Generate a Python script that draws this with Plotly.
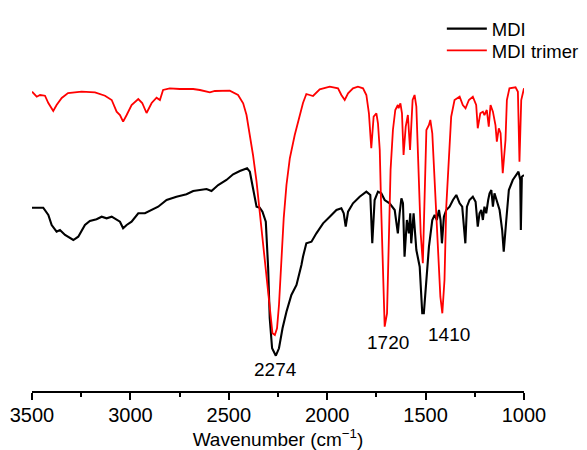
import plotly.graph_objects as go

# MDI (black) spectrum: wavenumber (cm-1) and transmittance (arbitrary units)
mdi_wn = [3500, 3443, 3417, 3400, 3375, 3358, 3332, 3290, 3265, 3231, 3206, 3172, 3146, 3121, 3095,
          3070, 3053, 3037, 3019, 2994, 2960, 2926, 2892, 2859, 2816, 2766, 2715, 2681, 2613, 2588,
          2554, 2512, 2478, 2444, 2407, 2393, 2377, 2359, 2343, 2329, 2312, 2300, 2292, 2280, 2261,
          2245, 2227, 2207, 2182, 2156, 2131, 2123, 2106, 2080, 2055, 2021, 1987, 1953, 1928, 1916,
          1906, 1894, 1869, 1835, 1801, 1781, 1771, 1759, 1742, 1725, 1708, 1683, 1657, 1641, 1632,
          1623, 1615, 1607, 1595, 1585, 1578, 1573, 1561, 1547, 1530, 1517, 1509, 1496, 1483, 1466,
          1454, 1443, 1432, 1424, 1417, 1407, 1395, 1378, 1361, 1344, 1327, 1314, 1306, 1298, 1290,
          1277, 1260, 1246, 1235, 1226, 1217, 1209, 1201, 1192, 1182, 1175, 1166, 1158, 1150, 1138,
          1124, 1111, 1103, 1090, 1077, 1057, 1037, 1028, 1019, 1016, 1011, 1000]
mdi_t = [183.3, 183.3, 176, 166, 159.3, 161, 156, 151, 154.3, 166, 170, 171.7, 174.3, 172.7, 174.3,
         171, 169.3, 162.7, 166, 169.3, 177.7, 177.7, 181, 184.3, 191, 194.3, 196.7, 200, 202, 200,
         206, 211, 216.7, 220, 222.7, 219.3, 202.7, 184.3, 183.3, 179.3, 169.3, 122.7, 72.7, 42.7, 35.3,
         42.7, 62.7, 79.3, 96, 106, 126, 134.3, 147.7, 149.3, 157.7, 167.7, 174.3, 181, 182.7, 177.7,
         164.3, 179.3, 187.7, 194.3, 199.3, 196, 147.7, 191, 199.3, 197.7, 191, 187.7, 181, 157.7, 177.7,
         192.7, 187.7, 134.3, 171, 157.7, 177.7, 147.7, 177.7, 141, 124.3, 77.7, 77.7, 111, 144.3, 171,
         176, 171, 181, 171, 147.7, 174.3, 181, 184.3, 191, 196, 187.7, 184.3, 167.7, 147.7, 184.3,
         191, 194.3, 189.3, 164.3, 177.7, 181, 171, 184.3, 177.7, 191, 197.7, 201, 184.3, 197.7, 191,
         181, 161, 139.3, 171, 201, 211, 216, 219.3, 211, 161, 214.3, 216]

# MDI trimer (red) spectrum
trimer_wn = [3500, 3476, 3459, 3434, 3417, 3392, 3375, 3349, 3317, 3248, 3180, 3129, 3095, 3070, 3053,
             3037, 3019, 2994, 2960, 2940, 2918, 2892, 2867, 2850, 2834, 2800, 2749, 2681, 2647, 2596,
             2571, 2495, 2453, 2427, 2410, 2393, 2377, 2359, 2343, 2326, 2309, 2292, 2278, 2266, 2255,
             2245, 2232, 2221, 2207, 2190, 2165, 2140, 2123, 2106, 2072, 2038, 1987, 1945, 1928, 1911,
             1894, 1869, 1844, 1818, 1801, 1788, 1776, 1764, 1750, 1742, 1733, 1725, 1717, 1708, 1696,
             1686, 1678, 1666, 1654, 1641, 1637, 1628, 1620, 1612, 1601, 1590, 1579, 1566, 1556, 1547,
             1539, 1534, 1525, 1514, 1505, 1496, 1483, 1476, 1466, 1454, 1438, 1425, 1415, 1404, 1395,
             1382, 1370, 1353, 1327, 1311, 1297, 1280, 1260, 1243, 1235, 1222, 1209, 1201, 1189, 1179,
             1170, 1158, 1145, 1138, 1128, 1119, 1108, 1094, 1087, 1074, 1043, 1031, 1023, 1014, 1000]
trimer_t = [299.3, 294.3, 296, 295.3, 288, 280, 286, 293, 298, 299.3, 298.7, 295.3, 291, 279.3, 276,
            269.3, 276, 286, 292, 288, 278, 288, 293.3, 291, 301, 302.7, 302, 302, 301, 298.7,
            300, 300.3, 296, 287.7, 276, 256, 236, 209.3, 179.3, 146, 112.7, 79.3, 57.7, 56, 62.7,
            86, 129.3, 172.7, 206, 232.7, 256, 276, 288, 297, 295, 301.7, 304.3, 302.7, 296, 291,
            297.7, 302.7, 304.3, 302.7, 296, 277.7, 242.7, 274.3, 277.7, 267.7, 241, 177.7, 111, 64.3, 77.7,
            161, 221, 261, 281, 286, 282.7, 287.7, 277.7, 236, 264.3, 276, 241, 291, 296, 284.3,
            244.3, 211, 157.7, 127.7, 204.3, 261, 266, 271, 257.7, 211, 151, 94.3, 77.7, 111, 184.3,
            237.7, 274.3, 291, 294.3, 286, 282.7, 291, 294.3, 286, 262.7, 277.7, 279.3, 276, 281, 264.3,
            286, 279.3, 266, 249.3, 262.7, 257.7, 217.7, 251, 291, 302.7, 303.7, 299.3, 229.3, 291, 302.7]

x_ticks = [3500, 3000, 2500, 2000, 1500, 1000]
peak_labels = ["2274", "1720", "1410"]
peak_label_x = [2261, 1693, 1383]
peak_label_y = [22, 49, 57]

FONT = "Liberation Sans, Arial, Helvetica, sans-serif"

fig = go.Figure()
fig.add_trace(go.Scatter(x=mdi_wn, y=mdi_t, mode="lines", name="MDI",
                         line=dict(color="black", width=2.1), legend="legend"))
fig.add_trace(go.Scatter(x=trimer_wn, y=trimer_t, mode="lines", name="MDI trimer",
                         line=dict(color="#ff0000", width=1.8), legend="legend2"))

for txt, lx, ly in zip(peak_labels, peak_label_x, peak_label_y):
    fig.add_annotation(x=lx, y=ly, text=txt, showarrow=False,
                       font=dict(family=FONT, size=19, color="black"),
                       xanchor="center", yanchor="middle")

legend_common = dict(xanchor="left", yanchor="middle", bgcolor="rgba(0,0,0,0)",
                     font=dict(family=FONT, size=18.5, color="black"), itemwidth=40,
                     borderwidth=0)

fig.update_layout(
    width=579, height=442,
    margin=dict(l=24, r=63, t=0, b=59, autoexpand=False),
    paper_bgcolor="white", plot_bgcolor="white",
    font=dict(family=FONT, size=19, color="black"),
    showlegend=True,
    legend=dict(x=0.833, y=0.945, **legend_common),
    legend2=dict(x=0.833, y=0.888, **legend_common),
    xaxis=dict(
        range=[3500, 1000], tickvals=x_ticks, ticktext=[str(v) for v in x_ticks],
        ticks="outside", ticklen=7, tickwidth=1.5, tickcolor="black",
        minor=dict(dtick=250, ticks="outside", ticklen=4, tickwidth=1.5, tickcolor="black"),
        showline=True, linecolor="black", linewidth=2, mirror=False,
        showgrid=False, zeroline=False, automargin=False,
        ticklabelstandoff=-2,
        tickfont=dict(family=FONT, size=20, color="black"),
        title=dict(text="Wavenumber (cm<sup>−1</sup>)", font=dict(family=FONT, size=19, color="black"),
                   standoff=7),
    ),
    yaxis=dict(range=[0, 383], visible=False, showgrid=False, zeroline=False, automargin=False),
)

fig.write_html("out.html")
